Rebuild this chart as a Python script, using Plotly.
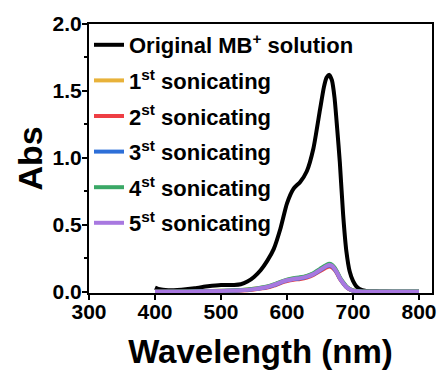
import plotly.graph_objects as go

# ---- data ----
wl_black = [400, 405, 420, 440, 460, 480, 500, 520, 530, 540, 550, 560, 570, 580, 590, 600,
            610, 620, 630, 640, 650, 656, 660, 664, 668, 672, 676, 680, 685, 690, 695, 700,
            705, 710, 720, 740, 760, 800]
abs_black = [0.03, 0.02, 0.01, 0.015, 0.025, 0.04, 0.05, 0.05, 0.055, 0.075, 0.11, 0.16, 0.23,
             0.32, 0.47, 0.66, 0.77, 0.82, 0.90, 1.07, 1.36, 1.53, 1.60, 1.62, 1.58, 1.45, 1.22,
             0.97, 0.58, 0.30, 0.15, 0.08, 0.04, 0.02, 0.006, 0.002, 0.0, 0.0]

wl_son = [400, 450, 500, 530, 550, 570, 580, 590, 600, 610, 620, 630, 640, 650, 660, 664, 668,
          672, 676, 680, 685, 690, 695, 700, 710, 720, 760, 800]
abs_1st = [0.0, 0.0, 0.006, 0.011, 0.021, 0.037, 0.052, 0.072, 0.088, 0.098, 0.104, 0.115, 0.135,
           0.166, 0.196, 0.203, 0.197, 0.176, 0.145, 0.104, 0.068, 0.037, 0.019, 0.009, 0.002, 0.0, 0.0, 0.0]
abs_2nd = [0.0, 0.0, 0.004, 0.008, 0.017, 0.031, 0.045, 0.064, 0.079, 0.089, 0.095, 0.105, 0.124,
           0.154, 0.182, 0.188, 0.183, 0.163, 0.134, 0.096, 0.062, 0.033, 0.017, 0.008, 0.002, 0.0, 0.0, 0.0]
abs_3rd = [0.0, 0.0, 0.005, 0.010, 0.019, 0.034, 0.049, 0.068, 0.084, 0.094, 0.100, 0.110, 0.130,
           0.160, 0.190, 0.196, 0.191, 0.170, 0.140, 0.100, 0.065, 0.035, 0.018, 0.008, 0.002, 0.0, 0.0, 0.0]
abs_4th = [0.0, 0.001, 0.007, 0.012, 0.022, 0.039, 0.054, 0.074, 0.090, 0.100, 0.107, 0.118, 0.138,
           0.170, 0.201, 0.208, 0.202, 0.180, 0.148, 0.107, 0.070, 0.039, 0.020, 0.010, 0.004, 0.002, 0.002, 0.002]
abs_5th = [0.0, 0.0, 0.005, 0.010, 0.019, 0.035, 0.050, 0.069, 0.085, 0.095, 0.101, 0.112, 0.131,
           0.162, 0.192, 0.199, 0.193, 0.172, 0.141, 0.101, 0.066, 0.035, 0.018, 0.008, 0.002, 0.0, 0.0, 0.0]

names = ["Original MB<sup>+</sup> solution", "1<sup>st</sup> sonicating", "2<sup>st</sup> sonicating",
         "3<sup>st</sup> sonicating", "4<sup>st</sup> sonicating", "5<sup>st</sup> sonicating"]
colors = ["#000000", "#E8B23A", "#EE3E44", "#2D6FD8", "#3AA866", "#A878E0"]
x_ticks = [300, 400, 500, 600, 700, 800]
y_ticks = [0.0, 0.5, 1.0, 1.5, 2.0]

FONT = "Liberation Sans, Arial, sans-serif"

fig = go.Figure()
series = [(wl_black, abs_black), (wl_son, abs_1st), (wl_son, abs_2nd),
          (wl_son, abs_3rd), (wl_son, abs_4th), (wl_son, abs_5th)]
for i, (xs, ys) in enumerate(series):
    fig.add_trace(go.Scatter(
        x=xs, y=ys, mode="lines", name=names[i], legendgroup=f"g{i}",
        line=dict(color=colors[i], width=4, shape="spline", smoothing=0.6),
    ))

axis_common = dict(
    showline=True, linecolor="black", linewidth=2, mirror=True,
    ticks="outside", ticklen=5, tickwidth=2, tickcolor="black",
    showgrid=False, zeroline=False, automargin=False,
    tickfont=dict(family=FONT, size=21, color="black", weight="bold"),
)

fig.update_xaxes(
    range=[300, 819.7], tickvals=x_ticks, ticktext=[str(v) for v in x_ticks],
    ticklabelstandoff=-6,
    title=dict(text="Wavelength (nm)", font=dict(family=FONT, size=33, color="black", weight="bold"),
               standoff=18),
    **axis_common,
)
fig.update_yaxes(
    range=[-0.01, 2.0], tickvals=y_ticks, ticktext=[f"{v:.1f}" for v in y_ticks],
    minor=dict(ticks="outside", ticklen=3, tickwidth=1.5, tickcolor="black", dtick=0.25,
               tick0=0, showgrid=False),
    ticklabelstandoff=-4,
    title=dict(text="Abs", font=dict(family=FONT, size=34, color="black", weight="bold"),
               standoff=0),
    **axis_common,
)

fig.update_layout(
    width=438, height=374,
    margin=dict(l=89, r=6, t=24, b=81),
    plot_bgcolor="white", paper_bgcolor="white",
    showlegend=True,
    legend=dict(
        x=0, y=1, xanchor="left", yanchor="top",
        bgcolor="rgba(0,0,0,0)", borderwidth=0,
        font=dict(family=FONT, size=22, color="black", weight="bold"),
        tracegroupgap=4, itemwidth=30,
    ),
)

# remove the default page margin so the 438x374 figure fills the window exactly
fig.write_html("out.html", config={"displayModeBar": False},
               post_script="document.body.style.margin='0';document.body.style.overflow='hidden';")
